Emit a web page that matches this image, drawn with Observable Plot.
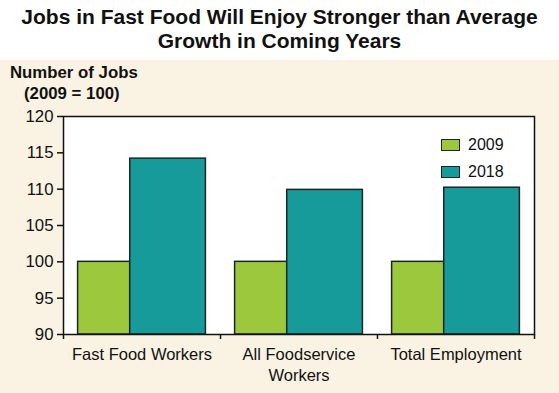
<!DOCTYPE html>
<html>
<head>
<meta charset="utf-8">
<script src="https://cdn.jsdelivr.net/npm/d3@7"></script>
<script src="https://cdn.jsdelivr.net/npm/@observablehq/plot@0.6"></script>
<style>
  html, body { margin: 0; padding: 0; background: #ffffff; }
  body { width: 559px; height: 393px; overflow: hidden; font-family: "Liberation Sans", Arial, sans-serif; color: #111; }
  #title { height: 60px; box-sizing: border-box; padding-top: 5px; text-align: center; font-weight: bold; font-size: 21px; line-height: 24px; background: #fff; }
  #panel { position: relative; height: 333px; background: #faf3e3; }
  #ylab1 { position: absolute; left: 10px; top: 3px; font-weight: bold; font-size: 16.8px; }
  #ylab2 { position: absolute; left: 24px; top: 24px; font-weight: bold; font-size: 16.8px; }
  #legend { position: absolute; left: 441px; top: 72px; font-size: 16px; }
  .row { display: flex; align-items: center; height: 26.5px; }
  .sw { width: 17px; height: 10px; border: 1.5px solid #1d2626; margin-right: 8px; }
  svg { position: absolute; left: 0; top: 0; }
</style>
</head>
<body>
<div id="title">Jobs in Fast Food Will Enjoy Stronger than Average<br>Growth in Coming Years</div>
<div id="panel">
  <div id="ylab1">Number of Jobs</div>
  <div id="ylab2">(2009 = 100)</div>
  <div id="chart"></div>
  <div id="legend"></div>
</div>
<script>
const categories = ["Fast Food Workers", "All Foodservice\nWorkers", "Total Employment"];
const years = ["2009", "2018"];
const values2009 = [100, 100, 100];
const values2018 = [114.2, 109.9, 110.2];
const yTicks = [90, 95, 100, 105, 110, 115, 120];
const colors = ["#9bc83c", "#179a9a"];

// layout (style) for bar spans within each category slot
const span = {"2009": [0.093, 0.425], "2018": [0.425, 0.907]};

const data = [];
categories.forEach((c, i) => {
  data.push({i, category: c, year: "2009", value: values2009[i]});
  data.push({i, category: c, year: "2018", value: values2018[i]});
});

const plot = Plot.plot({
  width: 559,
  height: 333,
  marginLeft: 63,
  marginRight: 25,
  marginTop: 56,
  marginBottom: 59,
  style: {background: "transparent", fontFamily: "'Liberation Sans', Arial, sans-serif", fontSize: "16.5px", color: "#111"},
  x: {domain: [0, categories.length], axis: null},
  y: {domain: [90, 120], axis: null},
  color: {domain: years, range: colors},
  marks: [
    Plot.frame({fill: "#ffffff", stroke: "none"}),
    Plot.rect(data, {
      x1: d => d.i + span[d.year][0],
      x2: d => d.i + span[d.year][1],
      y1: () => 90,
      y2: "value",
      fill: "year",
      stroke: "#1d2626",
      strokeWidth: 1.5
    }),
    Plot.frame({stroke: "#111", strokeWidth: 1.5}),
    Plot.axisY({ticks: yTicks, tickSize: 6, tickPadding: 4, label: null, fontSize: 16.8, strokeWidth: 1.5}),
    Plot.axisX({ticks: d3.range(categories.length + 1), tickFormat: () => "", tickSize: 5, label: null, strokeWidth: 1.5}),
    Plot.text(categories, {
      x: (d, i) => i + 0.5,
      frameAnchor: "bottom",
      lineAnchor: "top",
      dy: 10,
      fontSize: 16.5,
      lineHeight: 1.3,
      fill: "#111"
    })
  ]
});
document.getElementById("chart").appendChild(plot);

const legend = document.getElementById("legend");
years.forEach((y, k) => {
  const row = document.createElement("div");
  row.className = "row";
  const sw = document.createElement("div");
  sw.className = "sw";
  sw.style.background = colors[k];
  const t = document.createElement("span");
  t.textContent = y;
  row.appendChild(sw);
  row.appendChild(t);
  legend.appendChild(row);
});
</script>
</body>
</html>
